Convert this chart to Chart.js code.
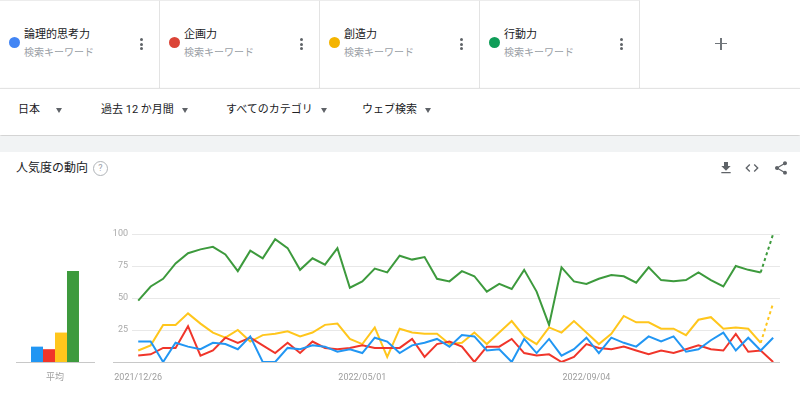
<!DOCTYPE html>
<html lang="ja">
<head>
<meta charset="UTF-8">
<title>人気度の動向</title>
<script src="https://cdn.jsdelivr.net/npm/chart.js"></script>
<style>
  body { margin: 0; width: 800px; height: 394px; overflow: hidden; background: #fff; position: relative;
         font-family: Roboto, "Noto Sans CJK JP", sans-serif; color: #202124; }
  .abs { position: absolute; }
  .card { position: absolute; top: 0; width: 159px; height: 87px; border-right: 1px solid #e3e3e3; border-top: 1px solid #ececec; }
  .dot { position: absolute; left: 9px; top: 36px; width: 11px; height: 11px; border-radius: 50%; }
  .term { position: absolute; left: 24px; top: 27px; font-size: 11px; line-height: 14px; white-space: nowrap; }
  .sub { position: absolute; left: 24px; top: 45px; font-size: 10px; line-height: 14px; color: #9aa0a6; white-space: nowrap; }
  .kebab { position: absolute; left: 140px; top: 37px; width: 3px; }
  .kebab i { display: block; width: 3px; height: 3px; border-radius: 50%; background: #5f6368; margin-bottom: 1.5px; }
  .filter { position: absolute; top: 103px; font-size: 11px; line-height: 14px; white-space: nowrap; }
  .tri { display: inline-block; width: 0; height: 0; border-left: 3.5px solid transparent; border-right: 3.5px solid transparent;
         border-top: 5px solid #5f6368; vertical-align: middle; margin-left: 8px; }
</style>
</head>
<body>
<div id="cards"></div>
<div class="abs" style="left:715px;top:43px;width:12px;height:1.2px;background:#70757a"></div>
<div class="abs" style="left:720.4px;top:38px;width:1.2px;height:12px;background:#70757a"></div>

<div class="abs" style="left:0;top:88px;width:800px;height:46px;border-top:1px solid #e3e3e3;box-shadow:0 1px 2px rgba(0,0,0,0.25)"></div>
<div class="filter" style="left:18px">日本<span class="tri" style="margin-left:16px"></span></div>
<div class="filter" style="left:101px">過去 12 か月間<span class="tri"></span></div>
<div class="filter" style="left:226px">すべてのカテゴリ<span class="tri"></span></div>
<div class="filter" style="left:362px">ウェブ検索<span class="tri"></span></div>
<div class="abs" style="left:0;top:136px;width:800px;height:16px;background:#f1f3f4"></div>

<div class="abs" style="left:16px;top:160px;font-size:12px;line-height:16px">人気度の動向</div>
<div class="abs" style="left:93px;top:161px;width:13px;height:13px;border:1px solid #b0b4b8;border-radius:50%;font-size:9px;line-height:13px;text-align:center;color:#9aa0a6">?</div>
<svg class="abs" style="left:718px;top:160px" width="16" height="16" viewBox="0 0 24 24"><path fill="#5f6368" d="M19 9h-4V3H9v6H5l7 7 7-7zM5 18v2h14v-2H5z"/></svg>
<svg class="abs" style="left:744px;top:160px" width="16" height="16" viewBox="0 0 24 24"><path fill="#5f6368" d="M9.4 16.6L4.8 12l4.6-4.6L8 6l-6 6 6 6 1.4-1.4zm5.2 0l4.6-4.6-4.6-4.6L16 6l6 6-6 6-1.4-1.4z"/></svg>
<svg class="abs" style="left:773px;top:160px" width="16" height="16" viewBox="0 0 24 24"><path fill="#5f6368" d="M18 16.08c-.76 0-1.44.3-1.96.77L8.91 12.7c.05-.23.09-.46.09-.7s-.04-.47-.09-.7l7.05-4.11c.54.5 1.25.81 2.04.81 1.66 0 3-1.34 3-3s-1.34-3-3-3-3 1.340-3 3c0 .24.04.47.09.7L8.04 9.81C7.5 9.31 6.79 9 6 9c-1.66 0-3 1.34-3 3s1.34 3 3 3c.79 0 1.5-.31 2.04-.81l7.12 4.16c-.05.21-.08.43-.08.65 0 1.61 1.31 2.92 2.92 2.92 1.61 0 2.92-1.31 2.92-2.920s-1.31-2.92-2.92-2.92z"/></svg>

<div class="abs" style="left:113px;top:362px;width:20px;height:1px;background:#c8c8c8"></div>
<canvas id="avgChart" class="abs" style="left:0;top:220px" width="110" height="170"></canvas>
<canvas id="trendChart" class="abs" style="left:100px;top:220px" width="680" height="170"></canvas>

<script>
  // search terms
  const terms = ['論理的思考力', '企画力', '創造力', '行動力'];
  const dotColors = ['#4285f4', '#db4437', '#f4b400', '#0f9d58'];
  const lineColors = ['#2196f3', '#f0352a', '#ffc61c', '#3d9a3d'];

  // weekly, past 12 months
  const weeks = [
    '2021/12/26', '2022/01/02', '2022/01/09', '2022/01/16', '2022/01/23', '2022/01/30',
    '2022/02/06', '2022/02/13', '2022/02/20', '2022/02/27', '2022/03/06', '2022/03/13',
    '2022/03/20', '2022/03/27', '2022/04/03', '2022/04/10', '2022/04/17', '2022/04/24',
    '2022/05/01', '2022/05/08', '2022/05/15', '2022/05/22', '2022/05/29', '2022/06/05',
    '2022/06/12', '2022/06/19', '2022/06/26', '2022/07/03', '2022/07/10', '2022/07/17',
    '2022/07/24', '2022/07/31', '2022/08/07', '2022/08/14', '2022/08/21', '2022/08/28',
    '2022/09/04', '2022/09/11', '2022/09/18', '2022/09/25', '2022/10/02', '2022/10/09',
    '2022/10/16', '2022/10/23', '2022/10/30', '2022/11/06', '2022/11/13', '2022/11/20',
    '2022/11/27', '2022/12/04', '2022/12/11', '2022/12/18'
  ];
  const shownWeeks = [0, 18, 36];
  const yTicks = [0, 25, 50, 75, 100];

  const logical = [16, 16, 0, 15, 12, 10, 15, 14, 10, 20, 0, 0, 11, 10, 13, 12, 8, 10, 7, 19, 16, 7, 13, 15, 18, 12,
                   21, 20, 9, 10, 0, 18, 7, 18, 5, 10, 19, 7, 19, 15, 12, 20, 16, 20, 8, 10, 17, 23, 9, 19, 9, 19];
  const planning = [5, 6, 11, 11, 28, 5, 9, 19, 15, 19, 13, 7, 15, 7, 16, 11, 10, 11, 13, 11, 11, 11, 18, 4, 14, 16,
                    12, 0, 12, 12, 18, 7, 5, 6, 0, 4, 14, 11, 10, 12, 9, 6, 9, 7, 10, 13, 10, 9, 22, 8, 9, 0];
  const creativity = [9, 13, 29, 29, 38, 30, 23, 19, 25, 16, 21, 22, 24, 20, 23, 29, 30, 18, 14, 27, 4, 26, 23, 22, 22, 14,
                      15, 23, 14, 23, 32, 20, 14, 27, 23, 32, 23, 14, 22, 36, 31, 31, 26, 26, 21, 33, 35, 26, 27, 26, 15, 46];
  const action = [48, 59, 65, 77, 85, 88, 90, 84, 71, 87, 81, 96, 89, 72, 81, 76, 89, 58, 63, 73, 70, 83, 80, 82, 65, 63,
                  71, 67, 55, 61, 57, 72, 55, 29, 74, 63, 61, 65, 68, 67, 62, 74, 64, 63, 64, 70, 64, 59, 75, 72, 70, 100];
  const averages = [12, 10, 23, 71];

  const series = [logical, planning, creativity, action];
  const partial = [false, false, true, true]; // last week drawn dotted

  const cards = document.getElementById('cards');
  terms.forEach((t, k) => {
    const c = document.createElement('div');
    c.className = 'card';
    c.style.left = (k * 160) + 'px';
    c.innerHTML = '<div class="dot" style="background:' + dotColors[k] + '"></div>' +
      '<div class="term">' + t + '</div><div class="sub">検索キーワード</div>' +
      '<div class="kebab"><i></i><i></i><i></i></div>';
    cards.appendChild(c);
  });

  const tickFont = { family: 'Roboto, "Noto Sans CJK JP", sans-serif', size: 9 };

  new Chart(document.getElementById('avgChart'), {
    type: 'bar',
    data: {
      labels: ['平均'],
      datasets: averages.map((v, k) => ({ data: [v], backgroundColor: lineColors[k] }))
    },
    options: {
      responsive: false,
      animation: false,
      layout: { padding: { top: 14, left: 16, right: 16, bottom: 0 } },
      plugins: { legend: { display: false }, tooltip: { enabled: false } },
      datasets: { bar: { categoryPercentage: 0.615, barPercentage: 1 } },
      scales: {
        x: {
          grid: { display: false },
          border: { color: '#c8c8c8' },
          ticks: { color: '#9e9e9e', font: tickFont, padding: 2 },
          afterFit: s => { s.height = 28; }
        },
        y: { display: false, min: 0, max: 100 }
      }
    }
  });

  new Chart(document.getElementById('trendChart'), {
    type: 'line',
    data: {
      datasets: series.map((vals, k) => ({
        label: terms[k],
        data: vals.map((v, i) => ({ x: i, y: v })),
        borderColor: lineColors[k],
        borderWidth: 2,
        pointRadius: 0,
        tension: 0,
        segment: {
          borderDash: c => (partial[k] && c.p1DataIndex === weeks.length - 1) ? [3, 3] : undefined
        }
      }))
    },
    options: {
      responsive: false,
      animation: false,
      layout: { padding: { top: 14, left: 0, right: 0, bottom: 0 } },
      plugins: { legend: { display: false }, tooltip: { enabled: false } },
      scales: {
        x: {
          type: 'linear',
          min: -0.5,
          max: 51.55,
          afterBuildTicks: s => { s.ticks = shownWeeks.map(v => ({ value: v })); },
          ticks: { callback: v => weeks[v], color: '#9e9e9e', font: tickFont, maxRotation: 0, autoSkip: false, padding: 2 },
          grid: { display: false },
          border: { color: '#c8c8c8' },
          afterFit: s => { s.height = 28; }
        },
        y: {
          min: 0,
          max: 100,
          afterBuildTicks: s => { s.ticks = yTicks.map(v => ({ value: v })); },
          ticks: { callback: v => v === 0 ? '' : v, color: '#aaaaaa', font: tickFont, padding: 4 },
          grid: { color: '#e8e8e8', drawTicks: false },
          border: { display: false },
          afterFit: s => { s.width = 32; }
        }
      }
    }
  });
</script>
</body>
</html>
